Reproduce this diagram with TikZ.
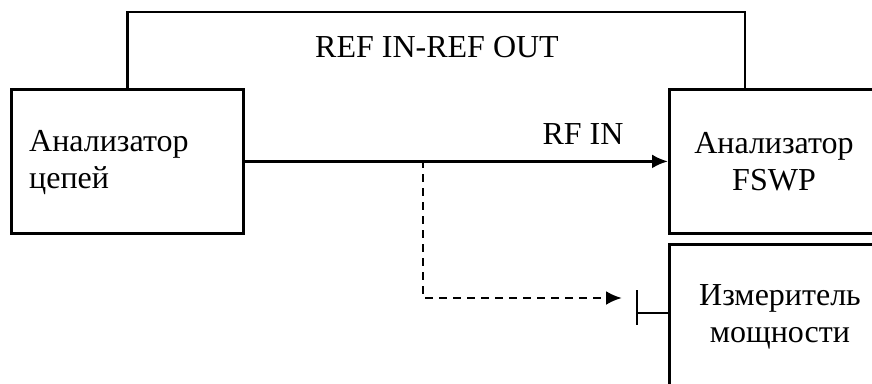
\documentclass[tikz,border=0pt]{standalone}
\usepackage{fontspec}
\setmainfont{Liberation Serif}
\usetikzlibrary{positioning,arrows.meta}
\tikzset{
blk/.style={
  rectangle,
  draw=black,
  line width=2.8pt,
  inner sep=0pt
  },
txt/.style={
  font=\fontsize{32}{37}\selectfont,
  align=center,
  inner sep=0pt
  },
wire/.style={line width=2.8pt},
tip/.style={-{Latex[length=16pt,width=14pt]}}
}

\begin{document}
\begin{tikzpicture}[x=1pt,y=-1pt,>=latex]
\useasboundingbox (0,0) rectangle (872,383);
\clip (0,0) rectangle (872,383);

% blocks
\node[blk,minimum width=232,minimum height=144,anchor=north west]
  (na) at (10,88) {};
\node[txt,align=left,anchor=west] (natxt) at (29,163) {Анализатор\\цепей};

\node[blk,minimum width=240,minimum height=144,anchor=north west]
  (fswp) at (668,88) {};
\node[txt] (fswptxt) at (774,162) {Анализатор\\FSWP};

\node[blk,minimum width=240,minimum height=170,anchor=north west]
  (pm) at (668,243) {};
\node[txt] (pmtxt) at (780,317) {Измеритель\\мощности};

% REF IN - REF OUT
\draw[wire] (na.north) -- ++(0,-76) -| ([xshift=77]fswp.north west);
\node[txt] (reflbl) at (437,47) {REF IN-REF OUT};

% RF IN
\draw[wire,tip] (na.east) -- (fswp.west);
\node[txt] (rflbl) at (583,134) {RF IN};

% power sensor
\coordinate (tap) at (423,160);
\coordinate (jack) at (637,313);
\draw[wire] (jack) -- (jack -| pm.west);
\draw[wire] ([yshift=23]jack) -- ([yshift=-12]jack);
\draw[wire,tip,dash pattern=on 8pt off 6pt] (tap) |- ([xshift=-15,yshift=15]jack);

\end{tikzpicture}
\end{document}
